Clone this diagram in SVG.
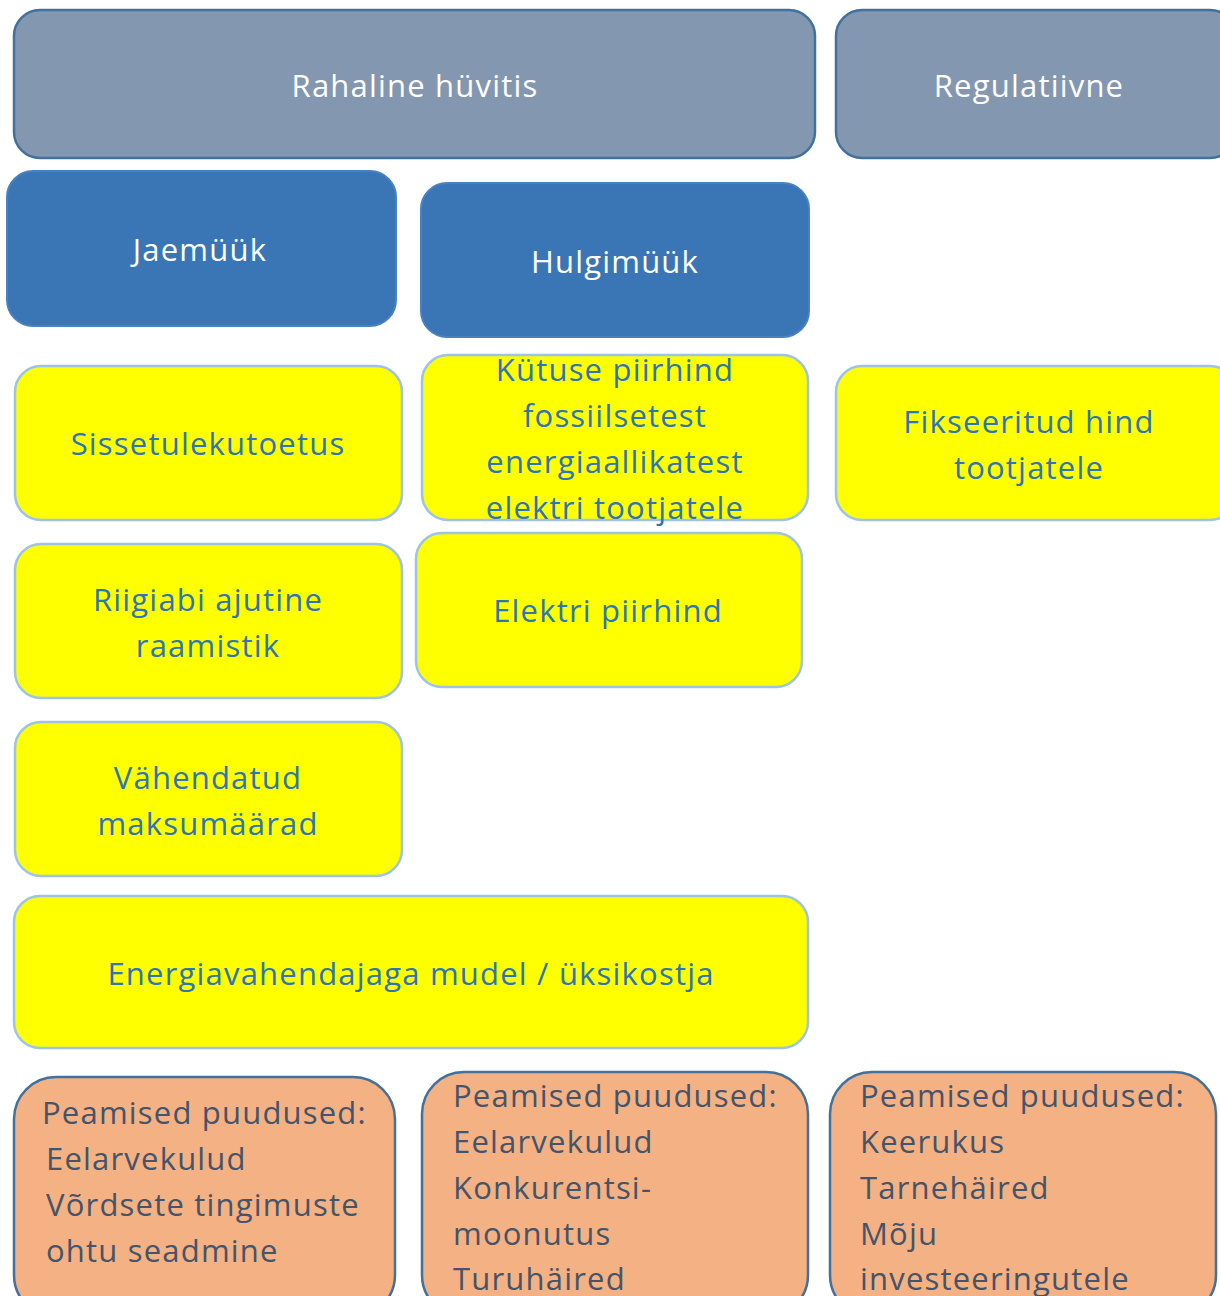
<svg xmlns="http://www.w3.org/2000/svg" width="1220" height="1296" viewBox="0 0 1220 1296">
<style>
text{font-family:"Open Sans",Lato,"Liberation Sans",sans-serif;font-size:31px;letter-spacing:1.2px}
.grey rect{fill:#8497B0;stroke:#41719C;stroke-width:2.5}
.blue rect{fill:#3A75B5;stroke:#4A82C0;stroke-width:2}
.yel rect{fill:#FFFF00;stroke:#9DC3E6;stroke-width:2.5}
.org rect{fill:#F4B183;stroke:#41719C;stroke-width:2.5}
.grey text,.blue text{fill:#FFFFFF;text-anchor:middle}
.yel text{fill:#2E75B6;text-anchor:middle}
.org text{fill:#44546A}
</style>
<rect width="1220" height="1296" fill="#FFFFFF"/>
<g id="connectors"></g>
<g id="n-rahaline" class="grey"><rect x="14" y="10" width="801" height="148" rx="26"/><text x="415" y="97">Rahaline hüvitis</text></g>
<g id="n-regulatiivne" class="grey"><rect x="836" y="10" width="400" height="148" rx="26"/><text x="1029" y="97">Regulatiivne</text></g>
<g id="n-jaemyyk" class="blue"><rect x="7" y="171" width="389" height="155" rx="26"/><text x="200" y="261">Jaemüük</text></g>
<g id="n-hulgimyyk" class="blue"><rect x="421" y="183" width="388" height="154" rx="26"/><text x="615" y="273">Hulgimüük</text></g>
<g id="n-sissetulek" class="yel"><rect x="15" y="366" width="387" height="154" rx="26"/><text x="208" y="455">Sissetulekutoetus</text></g>
<g id="n-kytus" class="yel"><rect x="422" y="355" width="386" height="165" rx="26"/><text x="615" y="381">Kütuse piirhind</text><text x="615" y="427">fossiilsetest</text><text x="615" y="473">energiaallikatest</text><text x="615" y="519">elektri tootjatele</text></g>
<g id="n-fikseeritud" class="yel"><rect x="836" y="366" width="400" height="154" rx="26"/><text x="1029" y="433">Fikseeritud hind</text><text x="1029" y="479">tootjatele</text></g>
<g id="n-riigiabi" class="yel"><rect x="15" y="544" width="387" height="154" rx="26"/><text x="208" y="611">Riigiabi ajutine</text><text x="208" y="657">raamistik</text></g>
<g id="n-elektri" class="yel"><rect x="416" y="533" width="386" height="154" rx="26"/><text x="608" y="622">Elektri piirhind</text></g>
<g id="n-vahendatud" class="yel"><rect x="15" y="722" width="387" height="154" rx="26"/><text x="208" y="789">Vähendatud</text><text x="208" y="835">maksumäärad</text></g>
<g id="n-energia" class="yel"><rect x="14" y="896" width="794" height="152" rx="26"/><text x="411" y="985">Energiavahendajaga mudel / üksikostja</text></g>
<g id="n-puudus1" class="org"><rect x="14" y="1077" width="381" height="240" rx="42"/><text x="42" y="1124">Peamised puudused:</text><text x="46" y="1170">Eelarvekulud</text><text x="46" y="1216">Võrdsete tingimuste</text><text x="46" y="1262">ohtu seadmine</text></g>
<g id="n-puudus2" class="org"><rect x="422" y="1072" width="386" height="245" rx="42"/><text x="453" y="1107">Peamised puudused:</text><text x="453" y="1153">Eelarvekulud</text><text x="453" y="1199">Konkurentsi-</text><text x="453" y="1245">moonutus</text><text x="453" y="1290">Turuhäired</text></g>
<g id="n-puudus3" class="org"><rect x="830" y="1072" width="386" height="245" rx="42"/><text x="860" y="1107">Peamised puudused:</text><text x="860" y="1153">Keerukus</text><text x="860" y="1199">Tarnehäired</text><text x="860" y="1245">Mõju</text><text x="860" y="1290">investeeringutele</text></g>
</svg>
